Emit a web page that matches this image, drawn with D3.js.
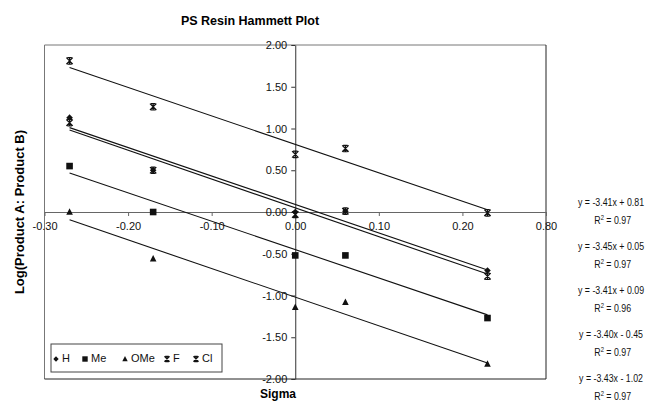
<!DOCTYPE html>
<html>
<head>
<meta charset="utf-8">
<script src="https://cdn.jsdelivr.net/npm/d3@7/dist/d3.min.js"></script>
<style>
  html, body { margin: 0; padding: 0; background: #fff; }
  svg { display: block; font-family: "Liberation Sans", Arial, sans-serif; }
</style>
</head>
<body>
<svg id="chart" width="647" height="404"></svg>
<script>
// Hammett sigma values of the substituents (x positions)
const sigma = [-0.27, -0.17, 0.00, 0.06, 0.23];

// Series, in legend order
const seriesNames = ["H", "Me", "OMe", "F", "Cl"];
const hValues   = [1.13, 0.50, 0.00, 0.01, -0.70];
const meValues  = [0.55, 0.00, -0.52, -0.52, -1.27];
const omeValues = [0.00, -0.56, -1.14, -1.08, -1.82];
const fValues   = [1.81, 1.26, 0.69, 0.76, -0.01];
const clValues  = [1.07, 0.50, -0.03, 0.01, -0.77];

// Linear trendlines for each series (same order as seriesNames)
const trendSlopes     = [-3.41, -3.40, -3.43, -3.41, -3.45];
const trendIntercepts = [0.09, -0.45, -1.02, 0.81, 0.05];
const trendR2         = [0.96, 0.97, 0.97, 0.97, 0.97];
// Order in which the equation labels are stacked on the right
const equationOrder = [3, 4, 0, 1, 2];

// Axis ticks
const xTicks = [-0.30, -0.20, -0.10, 0.00, 0.10, 0.20, 0.30];
const xTickLabels = ["-0.30", "-0.20", "-0.10", "0.00", "0.10", "0.20", "0.80"];
const yTicks = [-2.0, -1.5, -1.0, -0.5, 0.0, 0.5, 1.0, 1.5, 2.0];
const yTickLabels = ["-2.00", "-1.50", "-1.00", "-0.50", "0.00", "0.50", "1.00", "1.50", "2.00"];

const allValues = [hValues, meValues, omeValues, fValues, clValues];
const markerShapes = ["diamond", "square", "triangle", "star", "star"];

const svg = d3.select("#chart");
const plot = { left: 44.5, right: 546, top: 45, bottom: 379 };

const x = d3.scaleLinear().domain([-0.3, 0.3]).range([plot.left, plot.right]);
const y = d3.scaleLinear().domain([-2, 2]).range([plot.bottom, plot.top]);

// Title
svg.append("text")
  .attr("x", 250).attr("y", 25)
  .attr("text-anchor", "middle")
  .attr("font-weight", "bold").attr("font-size", 12.5)
  .text("PS Resin Hammett Plot");

// Plot area frame
const frame = svg.append("g");
frame.append("line").attr("x1", plot.left).attr("x2", plot.right).attr("y1", plot.top).attr("y2", plot.top).attr("stroke", "#777");
frame.append("line").attr("x1", plot.left).attr("x2", plot.left).attr("y1", plot.top).attr("y2", plot.bottom).attr("stroke", "#777");
frame.append("line").attr("x1", plot.right).attr("x2", plot.right).attr("y1", plot.top).attr("y2", plot.bottom).attr("stroke", "#222");
frame.append("line").attr("x1", plot.left).attr("x2", plot.right).attr("y1", plot.bottom).attr("y2", plot.bottom).attr("stroke", "#222");

// X axis through y = 0
const xAxis = d3.axisBottom(x)
  .tickValues(xTicks)
  .tickFormat((d, i) => xTickLabels[i])
  .tickSizeInner(4).tickSizeOuter(0).tickPadding(6);
const gx = svg.append("g").attr("transform", `translate(0,${y(0)})`).call(xAxis);
gx.select(".domain").attr("stroke", "#666");
gx.selectAll(".tick line").attr("stroke", "#666");
gx.selectAll("text").attr("font-size", 11).attr("fill", "#111").attr("font-family", null);

// Y axis through x = 0
const yAxis = d3.axisLeft(y)
  .tickValues(yTicks)
  .tickFormat((d, i) => yTickLabels[i])
  .tickSizeInner(4).tickSizeOuter(0).tickPadding(4);
const gy = svg.append("g").attr("transform", `translate(${x(0)},0)`).call(yAxis);
gy.select(".domain").attr("stroke", "#333");
gy.selectAll(".tick line").attr("stroke", "#333");
gy.selectAll("text").attr("font-size", 11).attr("fill", "#111").attr("font-family", null);

// Axis titles
svg.append("text")
  .attr("x", 278).attr("y", 398)
  .attr("text-anchor", "middle")
  .attr("font-weight", "bold").attr("font-size", 12)
  .text("Sigma");
svg.append("text")
  .attr("transform", `translate(24,212) rotate(-90)`)
  .attr("text-anchor", "middle")
  .attr("font-weight", "bold").attr("font-size", 13)
  .text("Log(Product A: Product B)");

// Trendlines across the data range
const xMin = d3.min(sigma), xMax = d3.max(sigma);
const trends = svg.append("g");
seriesNames.forEach((name, i) => {
  trends.append("line")
    .attr("x1", x(xMin)).attr("y1", y(trendSlopes[i] * xMin + trendIntercepts[i]))
    .attr("x2", x(xMax)).attr("y2", y(trendSlopes[i] * xMax + trendIntercepts[i]))
    .attr("stroke", "#111").attr("stroke-width", 1.1);
});

// Marker drawing
function drawMarker(g, shape, cx, cy, s) {
  if (shape === "diamond") {
    g.append("path").attr("d", `M${cx},${cy - s}L${cx + s},${cy}L${cx},${cy + s}L${cx - s},${cy}Z`).attr("fill", "#111");
  } else if (shape === "square") {
    g.append("rect").attr("x", cx - s).attr("y", cy - s).attr("width", 2 * s).attr("height", 2 * s).attr("fill", "#111");
  } else if (shape === "triangle") {
    g.append("path").attr("d", `M${cx},${cy - s * 1.15}L${cx + s},${cy + s * 0.85}L${cx - s},${cy + s * 0.85}Z`).attr("fill", "#111");
  } else {
    g.append("path")
      .attr("d", `M${cx - s},${cy - s}L${cx + s},${cy + s}M${cx + s},${cy - s}L${cx - s},${cy + s}M${cx},${cy - s}L${cx},${cy + s}` +
                 `M${cx - s * 0.7},${cy - s}L${cx + s * 0.7},${cy - s}M${cx - s * 0.7},${cy + s}L${cx + s * 0.7},${cy + s}`)
      .attr("stroke", "#111").attr("stroke-width", 1.2).attr("fill", "none");
  }
}

// Data points
const points = svg.append("g");
allValues.forEach((vals, i) => {
  vals.forEach((v, j) => {
    const size = markerShapes[i] === "star" ? 3.2 : 3.3;
    drawMarker(points, markerShapes[i], x(sigma[j]), y(v), size);
  });
});

// Trendline equations on the right (plain hyphen-minus, two decimals),
// set in a slightly condensed face so they fit beside the plot
const fmt2 = v => v.toFixed(2);
equationOrder.forEach((si, k) => {
  const cy = 206 + k * 44;
  const b = trendIntercepts[si];
  const sign = b < 0 ? "-" : "+";
  const blk = svg.append("g")
    .attr("transform", `translate(611,${cy}) scale(0.84,1)`)
    .attr("font-size", 10.5).attr("text-anchor", "middle").attr("fill", "#111");
  blk.append("text").attr("x", 0).attr("y", 0)
    .text(`y = ${fmt2(trendSlopes[si])}x ${sign} ${fmt2(Math.abs(b))}`);
  const r = blk.append("text").attr("x", 2).attr("y", 18);
  r.append("tspan").text("R");
  r.append("tspan").attr("font-size", 7).attr("dy", -4).text("2");
  r.append("tspan").attr("dy", 4).text(` = ${fmt2(trendR2[si])}`);
});

// Legend
const lg = svg.append("g");
lg.append("rect").attr("x", 51).attr("y", 344).attr("width", 171).attr("height", 28)
  .attr("fill", "#fff").attr("stroke", "#444");
const legendX = [56, 85, 125, 167, 196];
seriesNames.forEach((name, i) => {
  drawMarker(lg, markerShapes[i], legendX[i], 359, markerShapes[i] === "star" ? 2.6 : 2.7);
  lg.append("text").attr("x", legendX[i] + 6).attr("y", 362)
    .attr("font-size", 11).attr("fill", "#111").text(name);
});
</script>
</body>
</html>
